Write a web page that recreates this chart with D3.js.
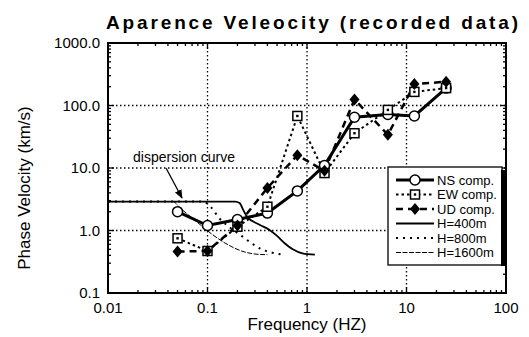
<!DOCTYPE html>
<html>
<head>
<meta charset="utf-8">
<script src="https://cdn.jsdelivr.net/npm/d3@7"></script>
<style>
  body { margin: 0; background: #fff; }
  svg { display: block; font-family: 'Liberation Sans', Arial, sans-serif; }
</style>
</head>
<body>
<div id="wrapper"></div>
<script>
// ---------------------------------------------------
// 1. DATA
// ---------------------------------------------------
const freqs = [0.05, 0.1, 0.2, 0.4, 0.8, 1.5, 3, 6.5, 12, 25]
const nsValues = [2.0, 1.2, 1.5, 1.9, 4.3, 11, 65, 72, 68, 190]
const ewValues = [0.75, 0.47, 1.15, 2.4, 68, 8.3, 36, 85, 165, 190]
const udValues = [0.46, 0.47, 1.2, 4.8, 16, 9, 125, 34, 220, 240]

// theoretical dispersion curves: [freq, velocity]
const h400 = [[0.01, 2.9], [0.19, 2.9], [0.21, 2.75], [0.23, 2.1], [0.25, 1.65], [0.33, 1.25],
  [0.42, 1.02], [0.5, 0.82], [0.6, 0.62], [0.72, 0.5], [0.9, 0.43], [1.2, 0.41]]
const h800 = [[0.01, 2.9], [0.09, 2.9], [0.11, 2.3], [0.13, 1.6], [0.17, 1.1], [0.22, 0.82],
  [0.28, 0.62], [0.35, 0.5], [0.45, 0.44], [0.58, 0.41]]
const h1600 = [[0.01, 2.9], [0.045, 2.9], [0.053, 2.3], [0.077, 1.4], [0.11, 0.88], [0.15, 0.63],
  [0.22, 0.47], [0.3, 0.42], [0.4, 0.41]]

const xTicks = [0.01, 0.1, 1, 10, 100]
const xTickLabels = ['0.01', '0.1', '1', '10', '100']
const yTicks = [0.1, 1, 10, 100, 1000]
const yTickLabels = ['0.1', '1.0', '10.0', '100.0', '1000.0']

// ---------------------------------------------------
// 2. DIMENSIONS
// ---------------------------------------------------
const dimensions = {
  width: 529,
  height: 337,
  margin: { top: 43, right: 23, bottom: 44, left: 108 },
}
dimensions.boundedWidth = dimensions.width - dimensions.margin.left - dimensions.margin.right
dimensions.boundedHeight = dimensions.height - dimensions.margin.top - dimensions.margin.bottom

// ---------------------------------------------------
// 3. CANVAS
// ---------------------------------------------------
const svg = d3.select('#wrapper')
  .append('svg')
  .attr('width', dimensions.width)
  .attr('height', dimensions.height)

const bounds = svg.append('g')
  .attr('transform', `translate(${dimensions.margin.left},${dimensions.margin.top})`)

// ---------------------------------------------------
// 4. SCALES
// ---------------------------------------------------
const xScale = d3.scaleLog().domain([0.01, 100]).range([0, dimensions.boundedWidth])
const yScale = d3.scaleLog().domain([0.1, 1000]).range([dimensions.boundedHeight, 0])

// minor ticks 2..9 per decade
const minorX = []
for (let d = 0.01; d < 100; d *= 10) for (let k = 2; k < 10; k++) minorX.push(d * k)
const minorY = []
for (let d = 0.1; d < 1000; d *= 10) for (let k = 2; k < 10; k++) minorY.push(d * k)

// ---------------------------------------------------
// 5. GRID + FRAME
// ---------------------------------------------------
const grid = bounds.append('g')
  .attr('stroke', '#000')
  .attr('stroke-width', 1.3)
  .attr('stroke-dasharray', '1.5,2.5')

grid.selectAll('.vgrid')
  .data(xTicks.slice(1, -1))
  .join('line')
  .attr('x1', (d) => xScale(d)).attr('x2', (d) => xScale(d))
  .attr('y1', 0).attr('y2', dimensions.boundedHeight)

grid.selectAll('.hgrid')
  .data(yTicks.slice(1, -1))
  .join('line')
  .attr('y1', (d) => yScale(d)).attr('y2', (d) => yScale(d))
  .attr('x1', 0).attr('x2', dimensions.boundedWidth)

const ticks = bounds.append('g').attr('stroke', '#000').attr('stroke-width', 1.3)
const drawTicksX = (vals, len) => {
  ticks.selectAll(null).data(vals).join('line')
    .attr('x1', (d) => xScale(d)).attr('x2', (d) => xScale(d))
    .attr('y1', dimensions.boundedHeight).attr('y2', dimensions.boundedHeight - len)
  ticks.selectAll(null).data(vals).join('line')
    .attr('x1', (d) => xScale(d)).attr('x2', (d) => xScale(d))
    .attr('y1', 0).attr('y2', len)
}
const drawTicksY = (vals, len) => {
  ticks.selectAll(null).data(vals).join('line')
    .attr('y1', (d) => yScale(d)).attr('y2', (d) => yScale(d))
    .attr('x1', 0).attr('x2', len)
  ticks.selectAll(null).data(vals).join('line')
    .attr('y1', (d) => yScale(d)).attr('y2', (d) => yScale(d))
    .attr('x1', dimensions.boundedWidth).attr('x2', dimensions.boundedWidth - len)
}
drawTicksX(minorX, 3)
drawTicksX(xTicks, 6)
drawTicksY(minorY, 3)
drawTicksY(yTicks, 6)

bounds.append('rect')
  .attr('width', dimensions.boundedWidth)
  .attr('height', dimensions.boundedHeight)
  .attr('fill', 'none')
  .attr('stroke', '#000')
  .attr('stroke-width', 2)

// tick labels
bounds.append('g')
  .selectAll('text')
  .data(xTicks)
  .join('text')
  .attr('x', (d) => xScale(d))
  .attr('y', dimensions.boundedHeight + 20)
  .attr('text-anchor', 'middle')
  .attr('font-size', 15)
  .text((d, i) => xTickLabels[i])

bounds.append('g')
  .selectAll('text')
  .data(yTicks)
  .join('text')
  .attr('x', -8)
  .attr('y', (d) => yScale(d) + 5)
  .attr('text-anchor', 'end')
  .attr('font-size', 15)
  .text((d, i) => yTickLabels[i])

// ---------------------------------------------------
// 6. DISPERSION CURVES
// ---------------------------------------------------
const curveLine = d3.line()
  .x((d) => xScale(d[0]))
  .y((d) => yScale(d[1]))
  .curve(d3.curveMonotoneX)

const curveStyles = [
  { data: h400, width: 1.8, dash: null, label: 'H=400m' },
  { data: h800, width: 2, dash: '2,5', label: 'H=800m' },
  { data: h1600, width: 1, dash: '5,1.5', label: 'H=1600m' },
]

// draw the solid one last so the shared flat part reads as one line
curveStyles.slice().reverse().forEach((c) => {
  bounds.append('path')
    .datum(c.data)
    .attr('d', curveLine)
    .attr('fill', 'none')
    .attr('stroke', '#000')
    .attr('stroke-width', c.width)
    .attr('stroke-dasharray', c.dash)
})

// ---------------------------------------------------
// 7. RECORDED DATA
// ---------------------------------------------------
const dataLine = d3.line()
  .x((d, i) => xScale(freqs[i]))
  .y((d) => yScale(d))

const series = [
  { values: nsValues, width: 3, dash: null, marker: 'circle', label: 'NS comp.' },
  { values: ewValues, width: 2, dash: '2.5,3', marker: 'square', label: 'EW comp.' },
  { values: udValues, width: 2.5, dash: '7,5', marker: 'diamond', label: 'UD comp.' },
]

series.forEach((s) => {
  bounds.append('path')
    .datum(s.values)
    .attr('d', dataLine)
    .attr('fill', 'none')
    .attr('stroke', '#000')
    .attr('stroke-width', s.width)
    .attr('stroke-dasharray', s.dash)
})

function drawMarker(g, type, x, y) {
  if (type === 'circle') {
    g.append('circle').attr('cx', x).attr('cy', y).attr('r', 5)
      .attr('fill', '#fff').attr('stroke', '#000').attr('stroke-width', 1.5)
  } else if (type === 'square') {
    g.append('rect').attr('x', x - 4.5).attr('y', y - 4.5).attr('width', 9).attr('height', 9)
      .attr('fill', '#fff').attr('stroke', '#000').attr('stroke-width', 1.5)
    g.append('rect').attr('x', x - 1.2).attr('y', y - 1.2).attr('width', 2.4).attr('height', 2.4)
      .attr('fill', '#000')
  } else {
    g.append('path').attr('d', `M${x},${y - 6}L${x + 5},${y}L${x},${y + 6}L${x - 5},${y}Z`)
      .attr('fill', '#000')
  }
}

series.forEach((s) => {
  const g = bounds.append('g')
  s.values.forEach((v, i) => drawMarker(g, s.marker, xScale(freqs[i]), yScale(v)))
})

// ---------------------------------------------------
// 8. ANNOTATION
// ---------------------------------------------------
svg.append('defs').append('marker')
  .attr('id', 'arrow')
  .attr('viewBox', '0 0 10 10')
  .attr('refX', 9).attr('refY', 5)
  .attr('markerWidth', 7).attr('markerHeight', 7)
  .attr('orient', 'auto')
  .append('path').attr('d', 'M0,1L10,5L0,9Z').attr('fill', '#000')

svg.append('text')
  .attr('x', 133).attr('y', 162)
  .attr('font-size', 14)
  .text('dispersion curve')

svg.append('line')
  .attr('x1', 166).attr('y1', 168)
  .attr('x2', 182).attr('y2', 198)
  .attr('stroke', '#000').attr('stroke-width', 1.3)
  .attr('marker-end', 'url(#arrow)')

// ---------------------------------------------------
// 9. LEGEND
// ---------------------------------------------------
const legend = svg.append('g')
svg.append('rect')
  .attr('x', 501).attr('y', 170).attr('width', 6).attr('height', 96)
  .attr('fill', '#000')
legend.append('rect')
  .attr('x', 388).attr('y', 167).attr('width', 114).attr('height', 98)
  .attr('fill', '#fff').attr('stroke', '#000').attr('stroke-width', 1.3)

const legendItems = [
  ...series.map((s) => ({ ...s, kind: 'series' })),
  ...curveStyles.map((c) => ({ ...c, kind: 'curve' })),
]
legendItems.forEach((item, i) => {
  const y = 180 + i * 14.5
  legend.append('line')
    .attr('x1', 396).attr('x2', 434)
    .attr('y1', y).attr('y2', y)
    .attr('stroke', '#000')
    .attr('stroke-width', item.width)
    .attr('stroke-dasharray', item.dash)
  if (item.kind === 'series') drawMarker(legend, item.marker, 415, y)
  legend.append('text')
    .attr('x', 437).attr('y', y + 4.5)
    .attr('font-size', 13)
    .text(item.label)
})

// ---------------------------------------------------
// 10. TITLES
// ---------------------------------------------------
svg.append('text')
  .attr('x', 106).attr('y', 29)
  .attr('font-size', 19).attr('font-weight', 'bold')
  .attr('textLength', 412)
  .text('Aparence Veleocity (recorded data)')

svg.append('text')
  .attr('x', dimensions.margin.left + dimensions.boundedWidth / 2)
  .attr('y', 330)
  .attr('text-anchor', 'middle')
  .attr('font-size', 17)
  .text('Frequency (HZ)')

svg.append('text')
  .attr('transform', 'translate(30,188) rotate(-90)')
  .attr('text-anchor', 'middle')
  .attr('font-size', 17)
  .text('Phase Velocity (km/s)')
</script>
</body>
</html>
